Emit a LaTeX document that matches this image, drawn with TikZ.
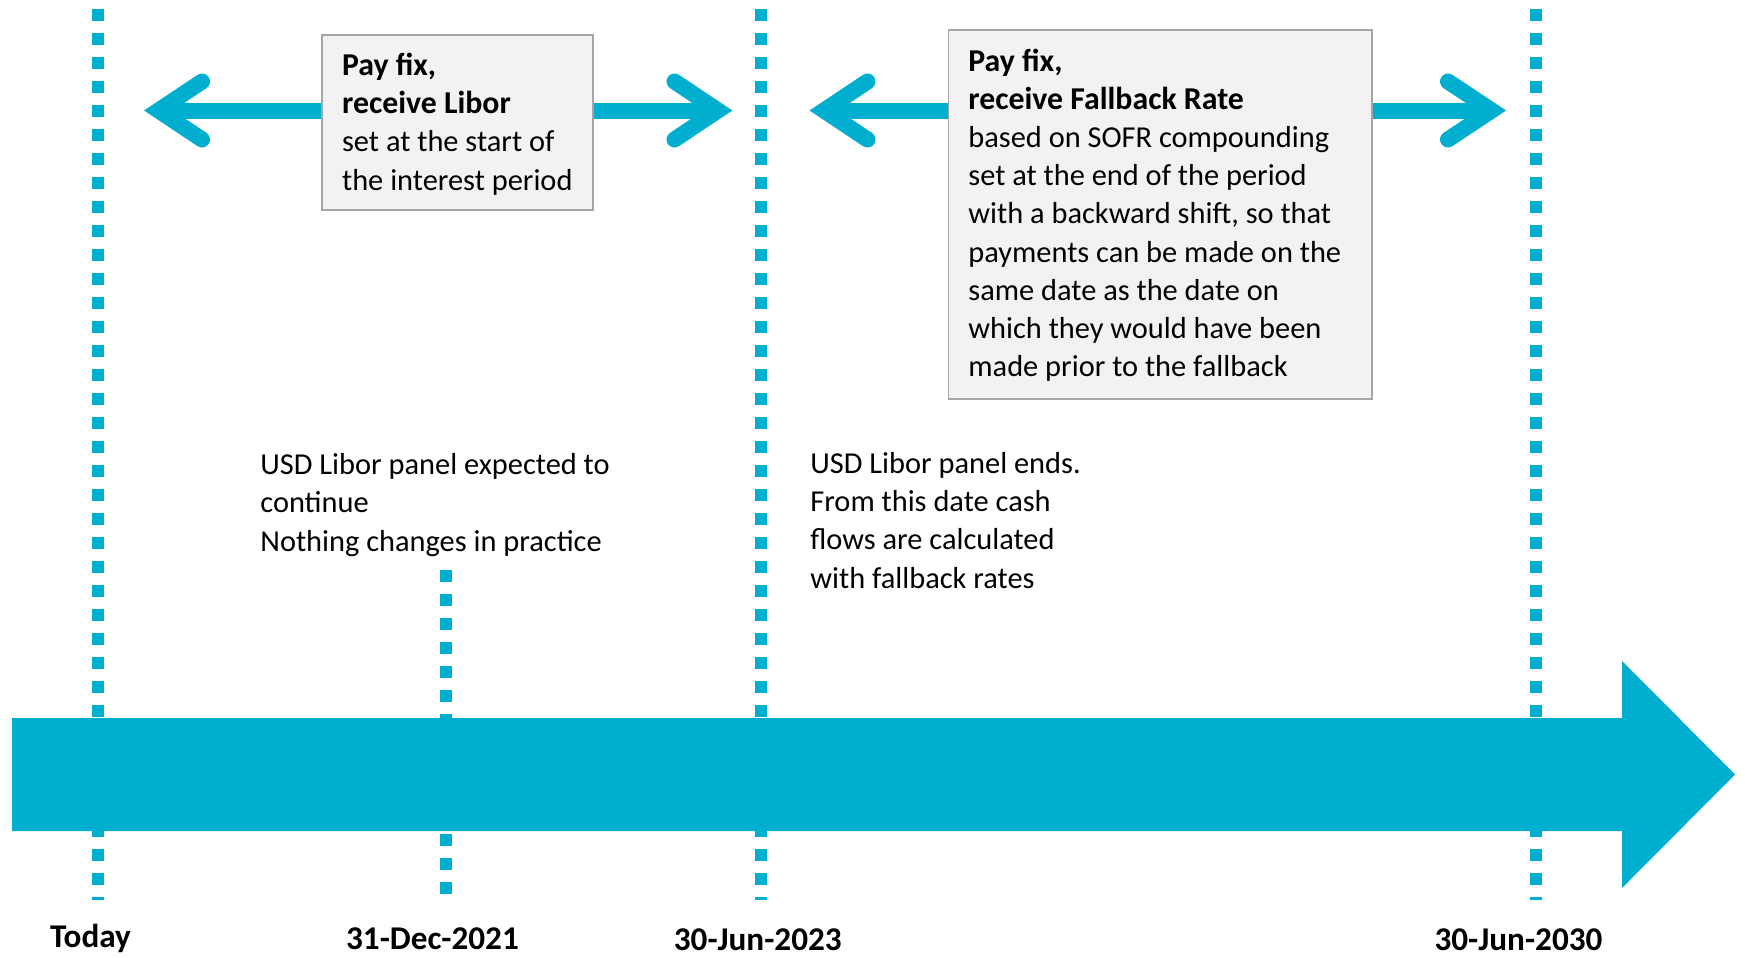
\documentclass[tikz,border=0pt]{standalone}
\usepackage{fontspec}
\setmainfont{Carlito}
\definecolor{eibblue}{HTML}{00AECF}
\definecolor{boxfill}{HTML}{F2F2F2}
\definecolor{boxline}{HTML}{A6A6A6}
\newcommand{\boxbold}[1]{{\fontsize{15.9}{19.1}\selectfont\bfseries #1}}
\begin{document}
\begin{tikzpicture}[x=0.5pt,y=-0.5pt,
  txt/.style={font=\fontsize{15.2}{19.1}\selectfont, align=left, inner sep=0pt, anchor=base west},
  datelbl/.style={font=\fontsize{16.6}{19}\selectfont\bfseries, inner sep=0pt, anchor=base},
  guide/.style={draw=eibblue, line width=6pt, dash pattern=on 5.75pt off 6.25pt},
  infobox/.style={draw=boxline, fill=boxfill, line width=0.8pt, inner sep=0pt, anchor=north west},
  shaft/.style={draw=eibblue, line width=8pt},
  chev/.style={draw=eibblue, line width=8pt, line cap=round, miter limit=10}
]
\useasboundingbox (0,0) rectangle (1745,958);

% vertical dotted guides
\draw[guide] (98,9.3) -- (98,900);
\draw[guide] (446,570) -- (446,893.5);
\draw[guide] (760.5,9.3) -- (760.5,900);
\draw[guide] (1536,9.3) -- (1536,900);

% big timeline arrow
\fill[eibblue] (12,718) -- (1622,718) -- (1622,661) -- (1735,774.5) -- (1622,888) -- (1622,831) -- (12,831) -- cycle;

% boxes
\node[infobox, minimum width=135.5pt, minimum height=87.5pt] (b1) at (321.4,34.3) {};
\node[infobox, minimum width=211.85pt, minimum height=184.5pt] (b2) at (947.7,29.3) {};

% text nodes: base anchor = baseline of the last line
\node[txt] (t1) at (341.7,190) {\boxbold{Pay fix,}\\\boxbold{receive Libor}\\set at the start of\\the interest period};
\node[txt] (t2) at (968,376.7) {\boxbold{Pay fix,}\\\boxbold{receive Fallback Rate}\\based on SOFR compounding\\set at the end of the period\\with a backward shift, so that\\payments can be made on the\\same date as the date on\\which they would have been\\made prior to the fallback};

% double arrows of box 1
\coordinate (v1l) at (158.5,110.5);
\coordinate (v1r) at (718,110.5);
\draw[shaft] (b1.west |- v1l) -- (v1l);
\draw[shaft] (b1.east |- v1r) -- (v1r);
\draw[chev] (202,81.5) -- (v1l) -- (202,139.5);
\draw[chev] (674.5,81.5) -- (v1r) -- (674.5,139.5);

% double arrows of box 2
\coordinate (v2l) at (824,110.5);
\coordinate (v2r) at (1491.6,110.5);
\draw[shaft] (b2.west |- v2l) -- (v2l);
\draw[shaft] (b2.east |- v2r) -- (v2r);
\draw[chev] (867.5,81.5) -- (v2l) -- (867.5,139.5);
\draw[chev] (1448,81.5) -- (v2r) -- (1448,139.5);

% lower texts
\node[txt] (n1) at (260,551) {USD Libor panel expected to\\continue\\Nothing changes in practice};
\node[txt] (n2) at (810,588) {USD Libor panel ends.\\From this date cash\\flows are calculated\\with fallback rates};

% date labels
\node[datelbl] (d0) at (90.5,947) {Today};
\node[datelbl] (d1) at (432.5,949.5) {31-Dec-2021};
\node[datelbl] (d2) at (757.8,950.5) {30-Jun-2023};
\node[datelbl] (d3) at (1518.5,950.5) {30-Jun-2030};
\end{tikzpicture}
\end{document}
